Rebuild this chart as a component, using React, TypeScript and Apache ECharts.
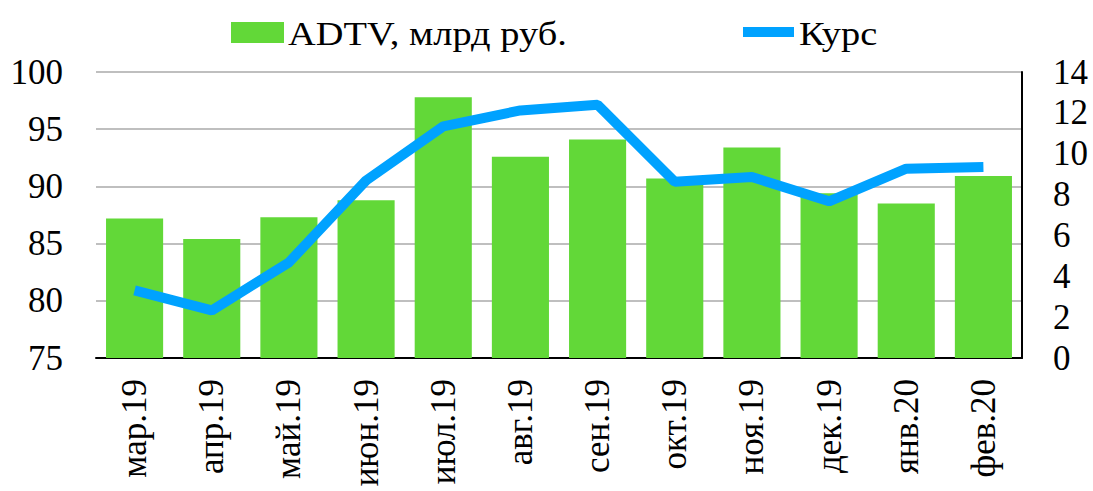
import React, { useEffect, useRef } from "react";
import * as echarts from "echarts";

const categories = ["мар.19", "апр.19", "май.19", "июн.19", "июл.19", "авг.19", "сен.19", "окт.19", "ноя.19", "дек.19", "янв.20", "фев.20"];
const adtv = [87.2, 85.4, 87.3, 88.8, 97.8, 92.6, 94.1, 90.7, 93.4, 89.4, 88.5, 90.9];
const kurs = [3.31, 2.33, 4.68, 8.69, 11.34, 12.12, 12.4, 8.63, 8.86, 7.67, 9.27, 9.35];
const leftTicks = { min: 75, max: 100, interval: 5 };
const rightTicks = { min: 0, max: 14, interval: 2 };
const seriesNames = ["ADTV, млрд руб.", "Курс"];

const FONT = "Liberation Serif";
const GREEN = "#62D838";
const BLUE = "#00A2FF";

export default function App() {
  const ref = useRef<HTMLDivElement>(null);
  useEffect(() => {
    document.body.style.margin = "0";
    const chart = echarts.init(ref.current!, null, { renderer: "svg" });
    chart.setOption({
      animation: false,
      backgroundColor: "#ffffff",
      textStyle: { fontFamily: FONT },
      grid: { left: 96, right: 71, top: 72, bottom: 133, containLabel: false, outerBoundsMode: "none" },
      graphic: [
        { type: "rect", shape: { x: 231, y: 22, width: 53, height: 21 }, style: { fill: GREEN } },
        { type: "text", x: 288, y: 34, scaleX: 1.13, style: { text: seriesNames[0], fontFamily: FONT, fontSize: 34, fill: "#000", verticalAlign: "middle" } },
        { type: "rect", shape: { x: 743, y: 27, width: 51, height: 10 }, style: { fill: BLUE } },
        { type: "text", x: 799, y: 34, scaleX: 1.13, style: { text: seriesNames[1], fontFamily: FONT, fontSize: 34, fill: "#000", verticalAlign: "middle" } },
      ],
      xAxis: {
        type: "category",
        data: categories,
        axisLine: { show: true, lineStyle: { color: "#000", width: 2 } },
        axisTick: { show: false },
        axisLabel: { rotate: 90, margin: 21, fontFamily: FONT, fontSize: 35, color: "#000" },
      },
      yAxis: [
        {
          type: "value",
          min: leftTicks.min,
          max: leftTicks.max,
          interval: leftTicks.interval,
          axisLine: { show: false },
          axisTick: { show: false },
          splitLine: { show: true, lineStyle: { color: "#BFBFBF", width: 2 } },
          axisLabel: { margin: 33, fontFamily: FONT, fontSize: 35, color: "#000" },
        },
        {
          type: "value",
          position: "right",
          min: rightTicks.min,
          max: rightTicks.max,
          interval: rightTicks.interval,
          axisLine: { show: true, lineStyle: { color: "#000", width: 2 } },
          axisTick: { show: false },
          splitLine: { show: false },
          axisLabel: { margin: 31, fontFamily: FONT, fontSize: 35, color: "#000" },
        },
      ],
      series: [
        {
          name: seriesNames[0],
          type: "bar",
          yAxisIndex: 0,
          data: adtv,
          barCategoryGap: "26%",
          itemStyle: { color: GREEN },
        },
        {
          name: seriesNames[1],
          type: "line",
          yAxisIndex: 1,
          data: kurs,
          showSymbol: false,
          symbol: "none",
          lineStyle: { color: BLUE, width: 10 },
        },
      ],
    });
    return () => chart.dispose();
  }, []);
  return <div ref={ref} style={{ width: 1093, height: 491 }} />;
}
